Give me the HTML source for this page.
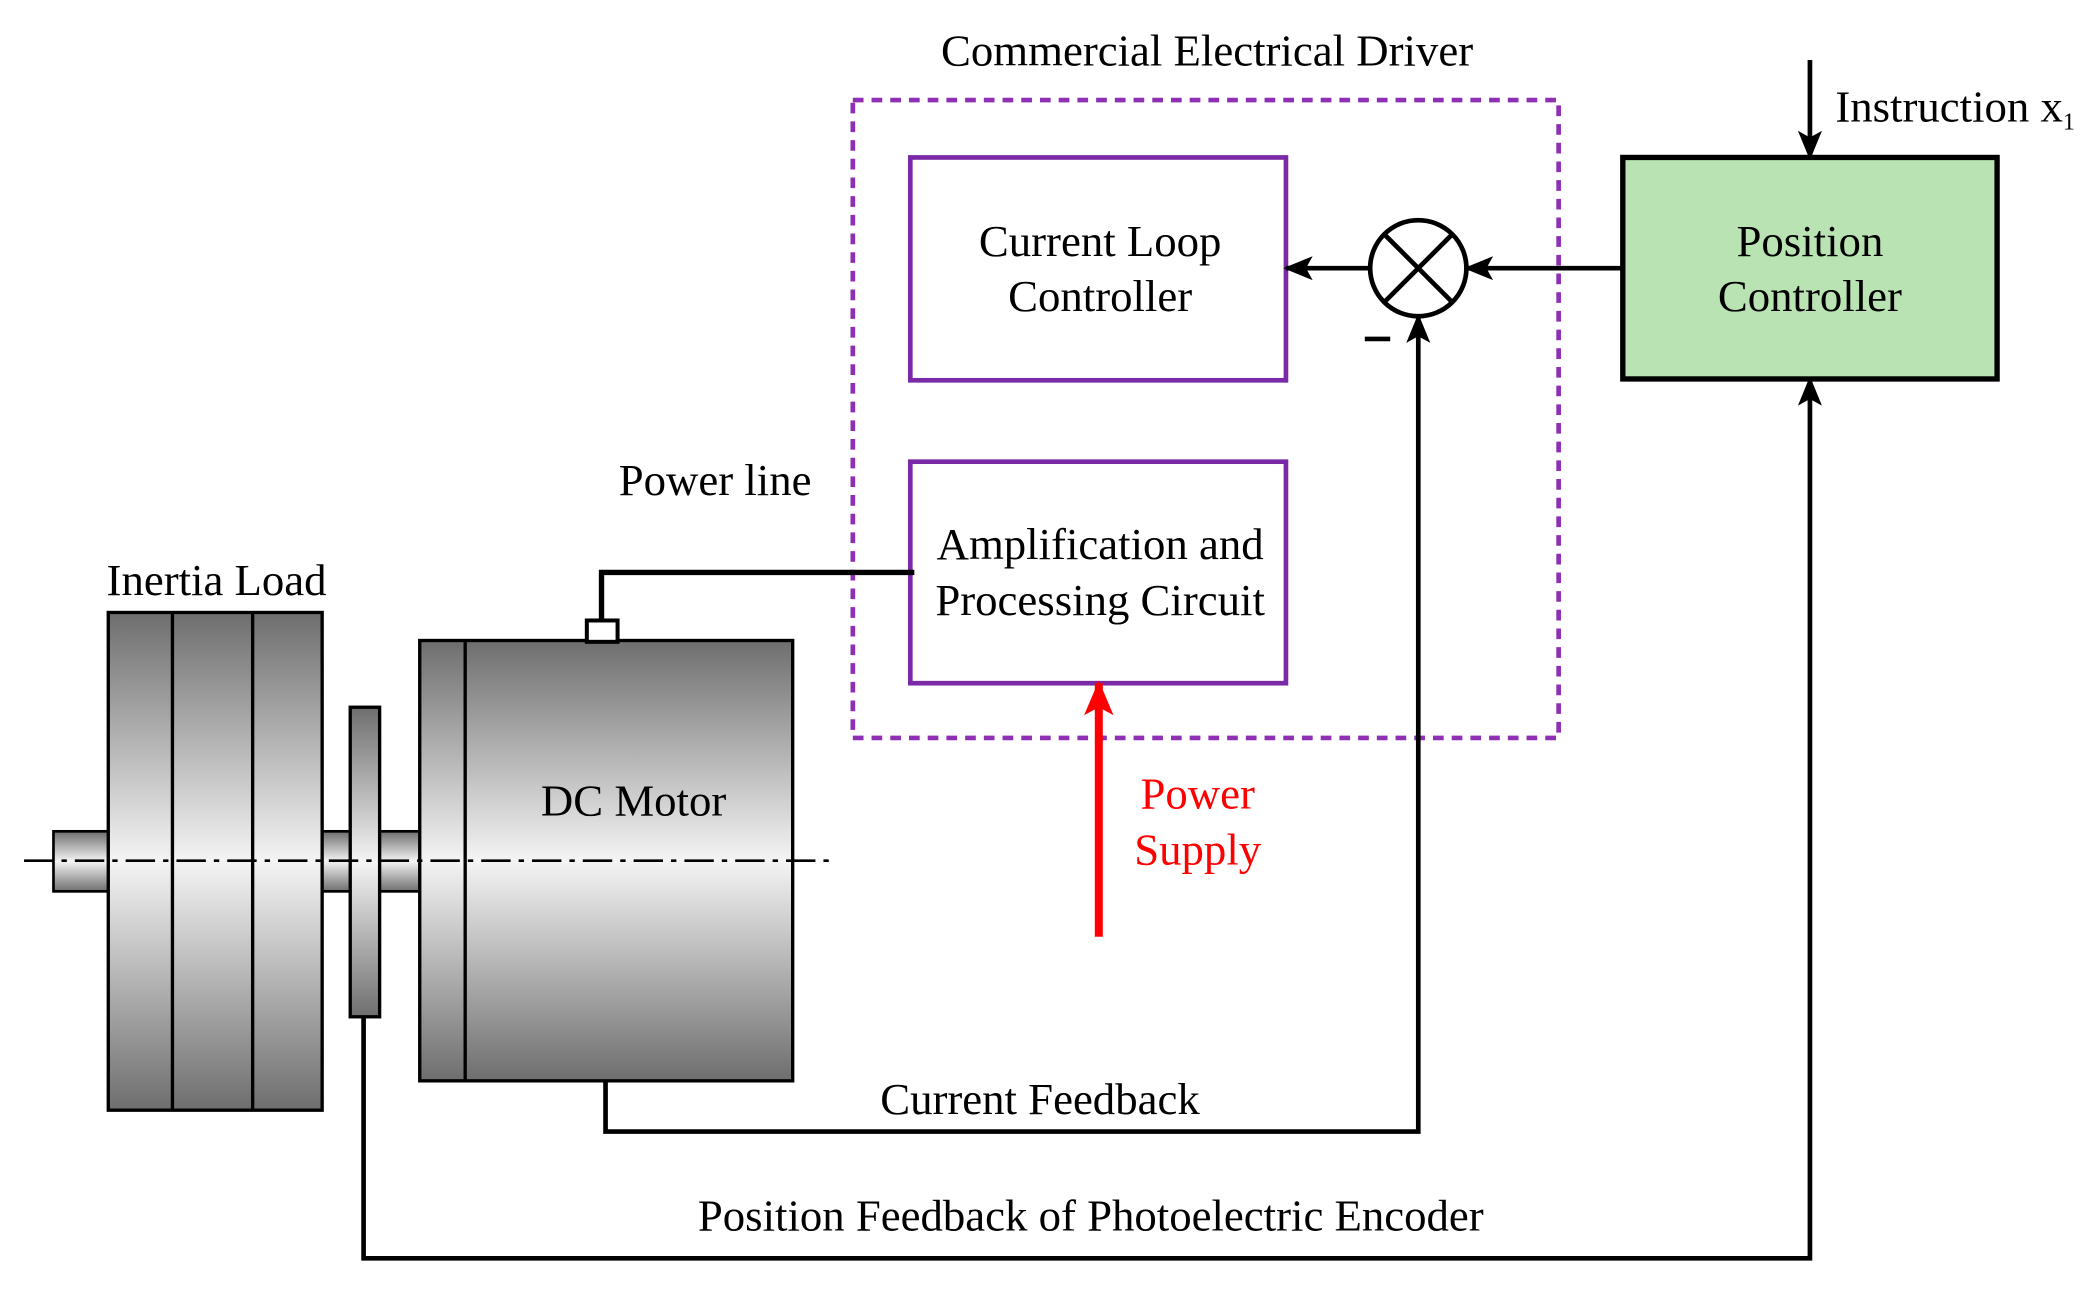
<!DOCTYPE html>
<html><head><meta charset="utf-8"><style>
html,body{margin:0;padding:0;background:#fff;}
svg{display:block;}
text{font-family:"Liberation Serif",serif;font-size:33.5px;fill:#000;}
</style></head><body>
<svg width="2096" height="1289" viewBox="0 0 1568 966" preserveAspectRatio="none" xmlns="http://www.w3.org/2000/svg">
<defs>
<linearGradient id="g" x1="0" y1="0" x2="0" y2="1">
<stop offset="0" stop-color="#6e6e6e"/>
<stop offset="0.5" stop-color="#f4f4f4"/>
<stop offset="1" stop-color="#6e6e6e"/>
</linearGradient>
<marker id="ab" markerWidth="22" markerHeight="22" refX="20" refY="11" orient="auto" markerUnits="userSpaceOnUse" viewBox="0 0 22 22">
<path d="M0,2 L22,11 L0,20 L5,11 Z" fill="#000"/></marker>
<marker id="ar" markerWidth="26" markerHeight="26" refX="24" refY="13" orient="auto" markerUnits="userSpaceOnUse" viewBox="0 0 26 26">
<path d="M0,2 L26,13 L0,24 L6,13 Z" fill="#f00"/></marker>
</defs>

<text x="903" y="49" text-anchor="middle">Commercial Electrical Driver</text>
<rect x="638" y="75" width="528" height="478" fill="none" stroke="#8e2fb4" stroke-width="3.5" stroke-dasharray="8,6"/>

<rect x="681" y="118" width="281" height="167" fill="#fff" stroke="#7a2aa6" stroke-width="3.5"/>
<text x="823" y="192" text-anchor="middle">Current Loop</text>
<text x="823" y="233" text-anchor="middle">Controller</text>

<rect x="681" y="346" width="281" height="166" fill="#fff" stroke="#7a2aa6" stroke-width="3.5"/>
<text x="823" y="419" text-anchor="middle">Amplification and</text>
<text x="823" y="461" text-anchor="middle">Processing Circuit</text>

<rect x="1214" y="118" width="280" height="166" fill="#b9e3b2" stroke="#000" stroke-width="4"/>
<text x="1354" y="192" text-anchor="middle">Position</text>
<text x="1354" y="233" text-anchor="middle">Controller</text>

<circle cx="1061" cy="201" r="36" fill="#fff" stroke="#000" stroke-width="3.5"/>
<line x1="1035.5" y1="175.5" x2="1086.5" y2="226.5" stroke="#000" stroke-width="3.5"/>
<line x1="1086.5" y1="175.5" x2="1035.5" y2="226.5" stroke="#000" stroke-width="3.5"/>
<line x1="1021" y1="254" x2="1040" y2="254" stroke="#000" stroke-width="3.5"/>

<line x1="1354" y1="45" x2="1354" y2="118" stroke="#000" stroke-width="3.5" marker-end="url(#ab)"/>
<text x="1373" y="91">Instruction x<tspan font-size="18" dy="6">1</tspan></text>
<line x1="1214" y1="201" x2="1097" y2="201" stroke="#000" stroke-width="3.5" marker-end="url(#ab)"/>
<line x1="1025" y1="201" x2="962" y2="201" stroke="#000" stroke-width="3.5" marker-end="url(#ab)"/>

<polyline points="453,810 453,848 1061,848 1061,237" fill="none" stroke="#000" stroke-width="3.5" marker-end="url(#ab)"/>
<polyline points="272,762 272,943 1354,943 1354,284" fill="none" stroke="#000" stroke-width="3.5" marker-end="url(#ab)"/>
<text x="778" y="835" text-anchor="middle">Current Feedback</text>
<text x="816" y="922" text-anchor="middle">Position Feedback of Photoelectric Encoder</text>

<polyline points="684,429 450,429 450,467" fill="none" stroke="#000" stroke-width="4"/>
<text x="535" y="371" text-anchor="middle">Power line</text>

<line x1="822" y1="702" x2="822" y2="512" stroke="#f00" stroke-width="6" marker-end="url(#ar)"/>
<text x="896" y="606" text-anchor="middle" style="fill:#f00">Power</text>
<text x="896" y="648" text-anchor="middle" style="fill:#f00">Supply</text>

<rect x="40" y="623" width="41" height="45" fill="url(#g)" stroke="#000" stroke-width="2"/>
<rect x="241" y="623" width="73" height="45" fill="url(#g)" stroke="#000" stroke-width="2"/>
<rect x="81" y="459" width="160" height="373" fill="url(#g)" stroke="#000" stroke-width="2.5"/>
<line x1="129" y1="459" x2="129" y2="832" stroke="#000" stroke-width="2.5"/>
<line x1="189" y1="459" x2="189" y2="832" stroke="#000" stroke-width="2.5"/>
<rect x="262" y="530" width="22" height="232" fill="url(#g)" stroke="#000" stroke-width="2.5"/>
<rect x="314" y="480" width="279" height="330" fill="url(#g)" stroke="#000" stroke-width="2.5"/>
<line x1="348" y1="480" x2="348" y2="810" stroke="#000" stroke-width="2.5"/>
<rect x="439" y="465" width="23" height="16" fill="#fff" stroke="#000" stroke-width="3"/>
<line x1="18" y1="645" x2="622" y2="645" stroke="#000" stroke-width="2" stroke-dasharray="22,6,4,6"/>
<text x="162" y="446" text-anchor="middle">Inertia Load</text>
<text x="474" y="611" text-anchor="middle">DC Motor</text>
</svg>
</body></html>
